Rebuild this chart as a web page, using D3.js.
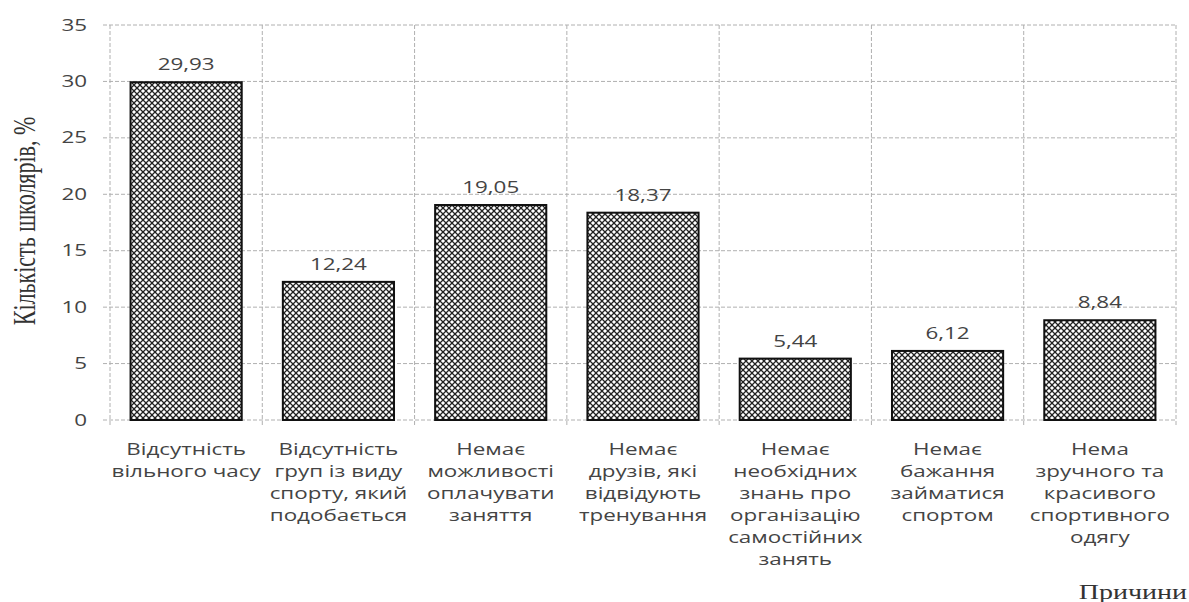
<!DOCTYPE html>
<html>
<head>
<meta charset="utf-8">
<script src="https://cdn.jsdelivr.net/npm/d3@7"></script>
<style>
  body { margin: 0; background: #fff; }
  .grid line { stroke: #b0b0b0; stroke-dasharray: 4 2; }
</style>
</head>
<body>
<div id="chart"></div>
<script>
const categories = [
  ['Відсутність', 'вільного часу'],
  ['Відсутність', 'груп із виду', 'спорту, який', 'подобається'],
  ['Немає', 'можливості', 'оплачувати', 'заняття'],
  ['Немає', 'друзів, які', 'відвідують', 'тренування'],
  ['Немає', 'необхідних', 'знань про', 'організацію', 'самостійних', 'занять'],
  ['Немає', 'бажання', 'займатися', 'спортом'],
  ['Нема', 'зручного та', 'красивого', 'спортивного', 'одягу']
]
const values = [29.93, 12.24, 19.05, 18.37, 5.44, 6.12, 8.84]
const yTicks = [0, 5, 10, 15, 20, 25, 30, 35]

const margin = { top: 25, right: 13, bottom: 182, left: 110 }
const width = 1189 - margin.left - margin.right
const height = 602 - margin.top - margin.bottom

// the original picture is stretched sideways, so text is widened too
const stretch = 1.4

const svgRoot = d3.select('#chart')
  .append('svg')
  .attr('width', 1189)
  .attr('height', 602)

const defs = svgRoot.append('defs')
const pat = defs.append('pattern')
  .attr('id', 'hatch')
  .attr('patternUnits', 'userSpaceOnUse')
  .attr('width', 6)
  .attr('height', 6)
pat.append('rect').attr('width', 6).attr('height', 6).attr('fill', '#fff')
pat.append('path').attr('d', 'M0,0 L6,6 M-1,5 L1,7 M5,-1 L7,1').attr('stroke', '#222').attr('stroke-width', 1.3)
pat.append('path').attr('d', 'M0,6 L6,0 M-1,1 L1,-1 M5,7 L7,5').attr('stroke', '#222').attr('stroke-width', 1.3)

const svg = svgRoot.append('g')
  .attr('transform', 'translate(' + margin.left + ',' + margin.top + ')')

const xPositionScale = d3.scaleBand()
  .domain(d3.range(categories.length))
  .range([0, width])
  .paddingInner(0.27)
  .paddingOuter(0.135)

const yPositionScale = d3.scaleLinear()
  .domain([0, 35])
  .range([height, 0])

// horizontal gridlines
svg.append('g')
  .attr('class', 'grid')
  .selectAll('line')
  .data(yTicks)
  .enter()
  .append('line')
  .attr('x1', -7)
  .attr('x2', width)
  .attr('y1', d => yPositionScale(d))
  .attr('y2', d => yPositionScale(d))

// vertical gridlines at category boundaries
svg.append('g')
  .attr('class', 'grid')
  .selectAll('line')
  .data(d3.range(categories.length + 1))
  .enter()
  .append('line')
  .attr('x1', d => d * width / categories.length)
  .attr('x2', d => d * width / categories.length)
  .attr('y1', 0)
  .attr('y2', height + 6)

// y tick labels
svg.append('g')
  .selectAll('text')
  .data(yTicks)
  .enter()
  .append('text')
  .text(d => d)
  .attr('transform', d => 'translate(-23,' + yPositionScale(d) + ') scale(' + stretch + ',1)')
  .attr('dy', '0.35em')
  .attr('text-anchor', 'end')
  .attr('font-family', 'Open Sans, sans-serif')
  .attr('font-size', 16)
  .attr('fill', '#444')

// bars
svg.selectAll('.bar')
  .data(values)
  .enter()
  .append('rect')
  .attr('class', 'bar')
  .attr('x', (d, i) => xPositionScale(i))
  .attr('y', d => yPositionScale(d))
  .attr('width', xPositionScale.bandwidth())
  .attr('height', d => height - yPositionScale(d))
  .attr('fill', 'url(#hatch)')
  .attr('stroke', '#111')
  .attr('stroke-width', 2)

// value labels
svg.selectAll('.val')
  .data(values)
  .enter()
  .append('text')
  .attr('class', 'val')
  .text(d => d.toFixed(2).replace('.', ','))
  .attr('transform', (d, i) => 'translate(' + (xPositionScale(i) + xPositionScale.bandwidth() / 2) + ',' +
    (yPositionScale(d) - 12) + ') scale(' + stretch + ',1)')
  .attr('text-anchor', 'middle')
  .attr('font-family', 'Open Sans, sans-serif')
  .attr('font-size', 16)
  .attr('fill', '#444')

// category labels
const cat = svg.selectAll('.cat')
  .data(categories)
  .enter()
  .append('text')
  .attr('class', 'cat')
  .attr('transform', (d, i) => 'translate(' + (xPositionScale(i) + xPositionScale.bandwidth() / 2) + ',' +
    (height + 35) + ') scale(' + stretch + ',1)')
  .attr('text-anchor', 'middle')
  .attr('font-family', 'Open Sans, sans-serif')
  .attr('font-size', 16)
  .attr('fill', '#444')

cat.selectAll('tspan')
  .data(d => d)
  .enter()
  .append('tspan')
  .text(d => d)
  .attr('x', 0)
  .attr('y', (d, j) => j * 22)

// axis titles
svgRoot.append('text')
  .text('Кількість школярів, %')
  .attr('transform', 'translate(35,' + 221 + ') scale(' + stretch + ',1) rotate(-90)')
  .attr('text-anchor', 'middle')
  .attr('font-family', 'Liberation Serif, serif')
  .attr('font-size', 22)
  .attr('fill', '#333')

svgRoot.append('text')
  .text('Причини')
  .attr('transform', 'translate(1187,599) scale(' + stretch + ',1)')
  .attr('text-anchor', 'end')
  .attr('font-family', 'Liberation Serif, serif')
  .attr('font-size', 20)
  .attr('fill', '#333')
</script>
</body>
</html>
